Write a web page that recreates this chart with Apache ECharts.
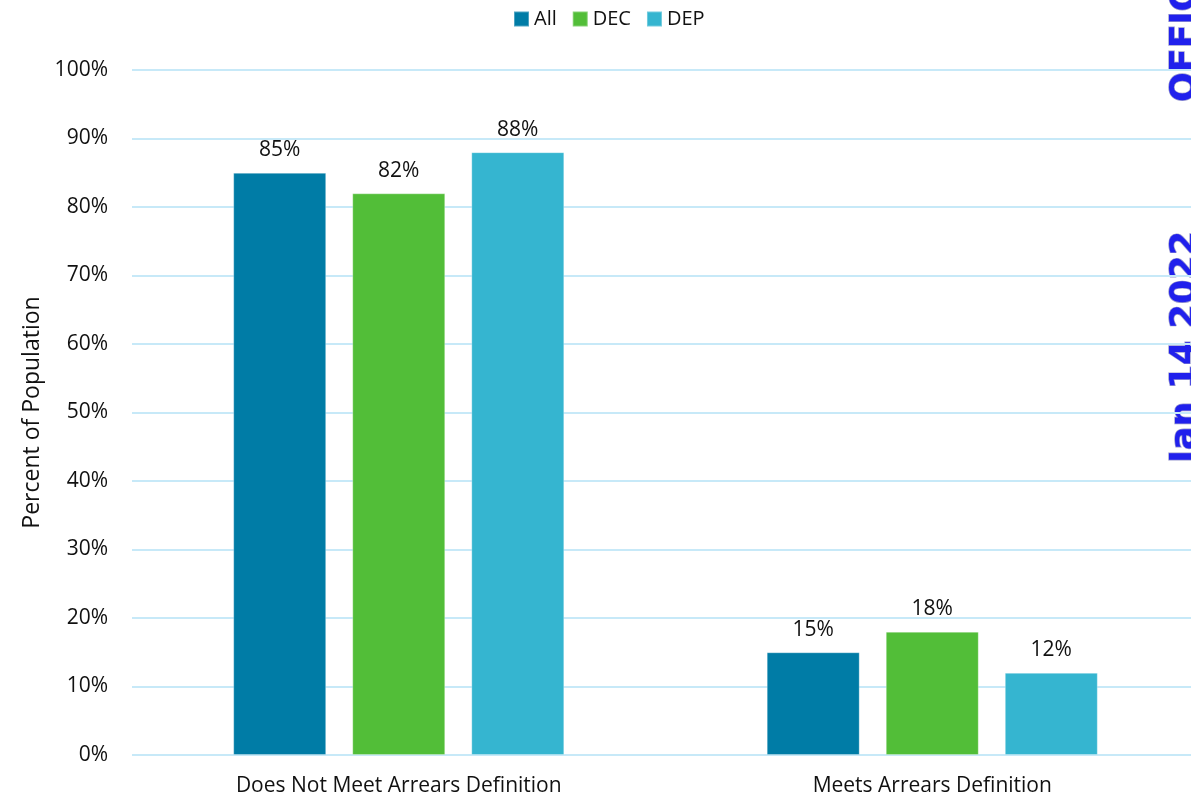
<!DOCTYPE html>
<html>
<head>
<meta charset="utf-8">
<script src="https://cdn.jsdelivr.net/npm/echarts@6/dist/echarts.min.js"></script>
<style>
  html, body { margin: 0; padding: 0; background: #ffffff; overflow: hidden; }
  #chart { width: 1200px; height: 797px; }
</style>
</head>
<body>
<div id="chart"></div>
<script>
// Share of population by arrears status, per group
const categories = ['Does Not Meet Arrears Definition', 'Meets Arrears Definition'];
const seriesNames = ['All', 'DEC', 'DEP'];
const allValues = [85, 15];
const decValues = [82, 18];
const depValues = [88, 12];
const yTicks = [0, 10, 20, 30, 40, 50, 60, 70, 80, 90, 100];

const colors = ['#007CA6', '#52BE38', '#35B5D0'];
const fontFamily = '"Open Sans", "Noto Sans", sans-serif';
const stampFont = 'bold 35px "DejaVu Sans", Verdana, sans-serif';

const chart = echarts.init(document.getElementById('chart'), null, { renderer: 'canvas' });

function barSeries(name, values, color) {
  return {
    name: name,
    type: 'bar',
    data: values,
    barWidth: 93,
    barGap: '28%',
    itemStyle: { color: color, borderColor: 'rgba(255,255,255,0.3)', borderWidth: 1 },
    label: {
      show: true,
      position: 'top',
      distance: 12,
      formatter: p => p.value + '%',
      color: '#111111',
      fontSize: 21,
      fontFamily: fontFamily
    }
  };
}

chart.setOption({
  animation: false,
  color: colors,
  legend: {
    top: 4,
    left: 508,
    itemWidth: 15,
    itemHeight: 15,
    itemGap: 15,
    icon: 'rect',
    textStyle: { fontSize: 20, fontFamily: fontFamily, color: '#111111' },
    data: seriesNames
  },
  grid: { left: 132, width: 1067, top: 70, bottom: 42, containLabel: false },
  xAxis: {
    type: 'category',
    data: categories,
    axisLine: { show: false },
    axisTick: { show: false },
    axisLabel: { fontSize: 21, fontFamily: fontFamily, color: '#111111', margin: 21 }
  },
  yAxis: {
    type: 'value',
    min: yTicks[0],
    max: yTicks[yTicks.length - 1],
    interval: 10,
    name: 'Percent of Population',
    nameLocation: 'middle',
    nameGap: 84,
    nameRotate: 90,
    nameTextStyle: { fontSize: 23, fontFamily: fontFamily, color: '#111111' },
    axisLine: { show: false },
    axisTick: { show: false },
    axisLabel: { formatter: '{value}%', fontSize: 21, fontFamily: fontFamily, color: '#111111', margin: 24 },
    splitLine: { lineStyle: { color: '#C7E9F8', width: 2 } }
  },
  graphic: [
    {
      type: 'text',
      x: 1186, y: 347,
      rotation: Math.PI / 2,
      style: {
        text: 'Jan 14 2022',
        fill: '#2020EC',
        stroke: '#9C9CD0',
        lineWidth: 1.4,
        font: stampFont,
        align: 'center',
        verticalAlign: 'middle'
      }
    },
    {
      type: 'text',
      x: 1186, y: 102,
      rotation: Math.PI / 2,
      style: {
        text: 'OFFICIAL',
        fill: '#2020EC',
        stroke: '#9C9CD0',
        lineWidth: 1.4,
        font: stampFont,
        align: 'left',
        verticalAlign: 'middle'
      }
    }
  ],
  series: [
    barSeries(seriesNames[0], allValues, colors[0]),
    barSeries(seriesNames[1], decValues, colors[1]),
    barSeries(seriesNames[2], depValues, colors[2])
  ]
});
</script>
</body>
</html>
